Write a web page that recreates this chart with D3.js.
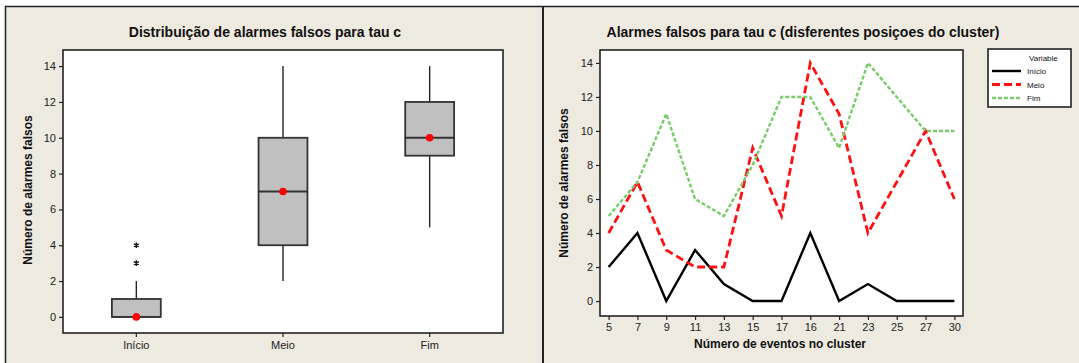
<!DOCTYPE html>
<html>
<head>
<meta charset="utf-8">
<script src="https://cdn.jsdelivr.net/npm/d3@7"></script>
<style>
  html, body { margin: 0; padding: 0; background: #ffffff; }
  svg { display: block; font-family: "Liberation Sans", Arial, sans-serif; }
</style>
</head>
<body>
<svg id="chart" width="1079" height="363"></svg>
<script>
// ---- Box plot: false alarms by cluster position ----
const positions = ["Início", "Meio", "Fim"];
const boxLow    = [0, 2, 5];     // lower whisker end
const boxQ1     = [0, 4, 9];
const boxMedian = [0, 7, 10];
const boxQ3     = [1, 10, 12];
const boxHigh   = [2, 14, 14];   // upper whisker end
const boxDot    = [0, 7, 10];    // red marker
const outliers  = [[3, 4], [], []];

// ---- Line chart: false alarms vs. number of events in cluster ----
const clusterEvents = ["5", "7", "9", "11", "13", "15", "17", "16", "21", "23", "25", "27", "30"];
const inicio = [2, 4, 0, 3, 1, 0, 0, 4, 0, 1, 0, 0, 0];
const meio   = [4, 7, 3, 2, 2, 9, 5, 14, 11, 4, 7, 10, 6];
const fim    = [5, 7, 11, 6, 5, 8, 12, 12, 9, 14, 12, 10, 10];
const yTicks = [0, 2, 4, 6, 8, 10, 12, 14];

const svg = d3.select("#chart");
const BG = "#eeeae0";

// panel background and frame lines
svg.append("rect").attr("x", 5).attr("y", 6).attr("width", 1074).attr("height", 357).attr("fill", BG);
svg.append("line").attr("x1", 5).attr("x2", 1079).attr("y1", 6.5).attr("y2", 6.5)
  .attr("stroke", "#222").attr("stroke-width", 1.5);
svg.append("line").attr("x1", 5.5).attr("x2", 5.5).attr("y1", 6).attr("y2", 363)
  .attr("stroke", "#222").attr("stroke-width", 1.5);
svg.append("line").attr("x1", 543).attr("x2", 543).attr("y1", 6).attr("y2", 363)
  .attr("stroke", "#222").attr("stroke-width", 2);

function styleAxis(g) {
  g.select(".domain").remove();
  g.selectAll(".tick line").attr("stroke", "#222").attr("stroke-width", 1.2);
  g.selectAll(".tick text").attr("fill", "#222").style("font-size", "11px")
    .style("font-family", "Liberation Sans, Arial, sans-serif");
}

// ================= Left panel: box plot =================
{
  const L = 63, R = 503, T = 50, B = 333;
  const x = d3.scaleBand().domain(positions).range([L, R]).padding(0);
  const y = d3.scaleLinear().domain([-0.9, 14.9]).range([B, T]);
  const g = svg.append("g");

  g.append("rect").attr("x", L).attr("y", T).attr("width", R - L).attr("height", B - T)
    .attr("fill", "#fff").attr("stroke", "#222").attr("stroke-width", 1.6);

  g.append("g").attr("transform", `translate(${L},0)`)
    .call(d3.axisLeft(y).tickValues(yTicks).tickSize(4).tickPadding(3))
    .call(styleAxis);
  g.append("g").attr("transform", `translate(0,${B})`)
    .call(d3.axisBottom(x).tickSize(4).tickPadding(4))
    .call(styleAxis);

  const bw = x.bandwidth() / 3;
  positions.forEach((p, i) => {
    const cx = x(p) + x.bandwidth() / 2;
    // whiskers
    g.append("line").attr("x1", cx).attr("x2", cx).attr("y1", y(boxQ3[i])).attr("y2", y(boxHigh[i]))
      .attr("stroke", "#222").attr("stroke-width", 1.4);
    g.append("line").attr("x1", cx).attr("x2", cx).attr("y1", y(boxQ1[i])).attr("y2", y(boxLow[i]))
      .attr("stroke", "#222").attr("stroke-width", 1.4);
    // box
    g.append("rect").attr("x", cx - bw / 2).attr("y", y(boxQ3[i]))
      .attr("width", bw).attr("height", y(boxQ1[i]) - y(boxQ3[i]))
      .attr("fill", "#c0c0c0").attr("stroke", "#333").attr("stroke-width", 1.8);
    // median
    g.append("line").attr("x1", cx - bw / 2).attr("x2", cx + bw / 2)
      .attr("y1", y(boxMedian[i])).attr("y2", y(boxMedian[i]))
      .attr("stroke", "#333").attr("stroke-width", 1.8);
    // outliers
    outliers[i].forEach(v => {
      g.append("path").attr("d", d3.symbol(d3.symbolAsterisk, 22)())
        .attr("transform", `translate(${cx},${y(v)})`)
        .attr("fill", "none").attr("stroke", "#111").attr("stroke-width", 1.4);
    });
    // red marker
    g.append("circle").attr("cx", cx).attr("cy", y(boxDot[i])).attr("r", 3.8).attr("fill", "#ff0000");
  });

  svg.append("text").attr("x", 265).attr("y", 37).attr("text-anchor", "middle")
    .style("font-size", "14px").style("font-weight", "bold").attr("fill", "#111")
    .text("Distribuição de alarmes falsos para tau c");
  svg.append("text").attr("transform", "translate(32,190) rotate(-90)").attr("text-anchor", "middle")
    .style("font-size", "12px").style("font-weight", "bold").attr("fill", "#111")
    .text("Número de alarmes falsos");
}

// ================= Right panel: line chart =================
{
  const L = 600, R = 963, T = 50, B = 316;
  const x = d3.scalePoint().domain(d3.range(clusterEvents.length)).range([L, R]).padding(0.3);
  const y = d3.scaleLinear().domain([-0.88, 14.76]).range([B, T]);
  const g = svg.append("g");

  g.append("rect").attr("x", L).attr("y", T).attr("width", R - L).attr("height", B - T)
    .attr("fill", "#fff").attr("stroke", "#222").attr("stroke-width", 1.6);

  g.append("g").attr("transform", `translate(${L},0)`)
    .call(d3.axisLeft(y).tickValues(yTicks).tickSize(4).tickPadding(3))
    .call(styleAxis);
  g.append("g").attr("transform", `translate(0,${B})`)
    .call(d3.axisBottom(x).tickSize(4).tickPadding(3).tickFormat(i => clusterEvents[i]))
    .call(styleAxis);

  const line = d3.line().x((d, i) => x(i)).y(d => y(d));
  const series = [
    { name: "Início", values: inicio, color: "#000000", dash: null, width: 2.4 },
    { name: "Meio",   values: meio,   color: "#ff1010", dash: "8,4", width: 2.8 },
    { name: "Fim",    values: fim,    color: "#78cc6a", dash: "4,2", width: 2.4 }
  ];
  series.forEach(s => {
    g.append("path").datum(s.values).attr("d", line)
      .attr("fill", "none").attr("stroke", s.color).attr("stroke-width", s.width)
      .attr("stroke-dasharray", s.dash).attr("stroke-linejoin", "miter");
  });

  // legend
  const lg = svg.append("g");
  lg.append("rect").attr("x", 988).attr("y", 49).attr("width", 83).attr("height", 58)
    .attr("fill", "#fff").attr("stroke", "#222").attr("stroke-width", 1.6);
  lg.append("text").attr("x", 1029).attr("y", 61)
    .style("font-size", "8px").attr("fill", "#111").text("Variable");
  series.forEach((s, i) => {
    const ly = 71 + i * 13.5;
    lg.append("line").attr("x1", 992).attr("x2", 1021).attr("y1", ly).attr("y2", ly)
      .attr("stroke", s.color).attr("stroke-width", s.width).attr("stroke-dasharray", s.dash);
    lg.append("text").attr("x", 1027).attr("y", ly + 3)
      .style("font-size", "8px").attr("fill", "#111").text(s.name);
  });

  svg.append("text").attr("x", 803).attr("y", 37).attr("text-anchor", "middle")
    .style("font-size", "14px").style("font-weight", "bold").attr("fill", "#111")
    .text("Alarmes falsos para tau c (disferentes posiçoes do cluster)");
  svg.append("text").attr("x", 780).attr("y", 348).attr("text-anchor", "middle")
    .style("font-size", "12px").style("font-weight", "bold").attr("fill", "#111")
    .text("Número de eventos no cluster");
  svg.append("text").attr("transform", "translate(568,183) rotate(-90)").attr("text-anchor", "middle")
    .style("font-size", "12px").style("font-weight", "bold").attr("fill", "#111")
    .text("Número de alarmes falsos");
}
</script>
</body>
</html>
